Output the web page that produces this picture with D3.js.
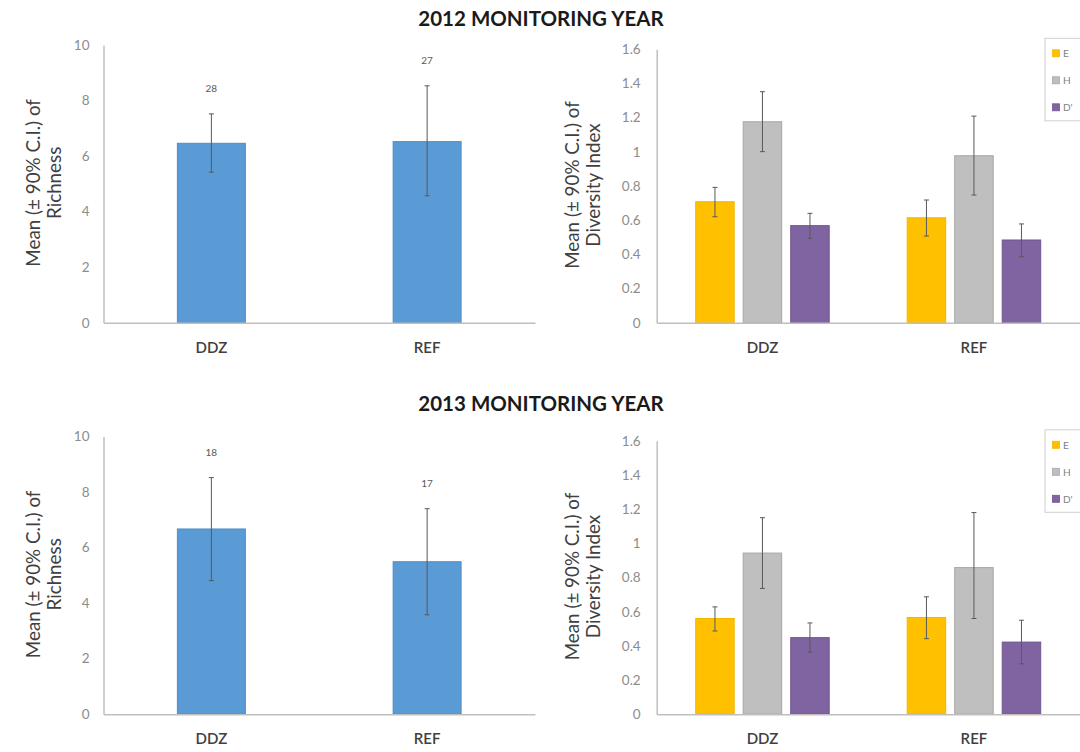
<!DOCTYPE html>
<html>
<head>
<meta charset="utf-8">
<script src="https://cdn.jsdelivr.net/npm/d3@7"></script>
<style>
  html, body { margin: 0; padding: 0; background: #fff; }
  svg { display: block; font-family: Lato, "Open Sans", sans-serif; }
</style>
</head>
<body>
<svg id="chart" width="1080" height="752"></svg>
<script>
// Sites and monitoring years
const categories = ["DDZ", "REF"];
const yearTitles = ["2012 MONITORING YEAR", "2013 MONITORING YEAR"];

// Species richness: mean with 90% confidence limits, and sample size (n)
const richnessMean2012 = [6.46, 6.52];
const richnessLow2012  = [5.42, 4.57];
const richnessHigh2012 = [7.52, 8.53];
const richnessN2012    = [28, 27];

const richnessMean2013 = [6.67, 5.49];
const richnessLow2013  = [4.81, 3.58];
const richnessHigh2013 = [8.52, 7.40];
const richnessN2013    = [18, 17];

// Diversity indices: evenness (E), Shannon (H) and D'
const indexNames = ["E", "H", "D'"];
const diversityMean2012 = { DDZ: [0.708, 1.176, 0.568], REF: [0.614, 0.977, 0.484] };
const diversityLow2012  = { DDZ: [0.620, 1.001, 0.494], REF: [0.507, 0.747, 0.386] };
const diversityHigh2012 = { DDZ: [0.792, 1.352, 0.640], REF: [0.718, 1.209, 0.578] };

const diversityMean2013 = { DDZ: [0.560, 0.943, 0.448], REF: [0.566, 0.858, 0.422] };
const diversityLow2013  = { DDZ: [0.487, 0.736, 0.363], REF: [0.442, 0.560, 0.295] };
const diversityHigh2013 = { DDZ: [0.628, 1.150, 0.534], REF: [0.687, 1.180, 0.550] };

// Axis tick values
const richnessTicks = [0, 2, 4, 6, 8, 10];
const diversityTicks = [0, 0.2, 0.4, 0.6, 0.8, 1, 1.2, 1.4, 1.6];

const richnessColor = { fill: "#5b9bd5", stroke: "#4f8cc4" };
const indexColors = [
  { fill: "#ffc000", stroke: "#f2b600" },
  { fill: "#bfbfbf", stroke: "#a6a6a6" },
  { fill: "#8064a2", stroke: "#6f5592" }
];

const rows = [
  { title: yearTitles[0], titleY: 18, top: 0,
    rich: { mean: richnessMean2012, low: richnessLow2012, high: richnessHigh2012, n: richnessN2012 },
    div: { mean: diversityMean2012, low: diversityLow2012, high: diversityHigh2012 } },
  { title: yearTitles[1], titleY: 403, top: 391.5,
    rich: { mean: richnessMean2013, low: richnessLow2013, high: richnessHigh2013, n: richnessN2013 },
    div: { mean: diversityMean2013, low: diversityLow2013, high: diversityHigh2013 } }
];

const svg = d3.select("#chart");
const axisColor = "#bfbfbf";
const tickColor = "#8c8c8c";
const errColor = "#595959";

function styleAxis(g) {
  g.select(".domain").attr("stroke", axisColor).attr("stroke-width", 1.5);
  g.selectAll(".tick line").remove();
}

function yTitle(g, x, yMid, lines) {
  const t = g.append("text")
    .attr("transform", `translate(${x},${yMid}) rotate(-90)`)
    .attr("text-anchor", "middle")
    .attr("fill", "#404040")
    .style("font-size", "18.8px");
  lines.forEach((s, i) => {
    t.append("tspan").attr("x", 0).attr("dy", i === 0 ? 0 : "1.1em").text(s);
  });
}

function errorBar(g, cx, yTop, yBot, cap) {
  g.append("line").attr("x1", cx).attr("x2", cx).attr("y1", yTop).attr("y2", yBot)
    .attr("stroke", errColor).attr("stroke-width", 1);
  [yTop, yBot].forEach(yy => {
    g.append("line").attr("x1", cx - cap).attr("x2", cx + cap).attr("y1", yy).attr("y2", yy)
      .attr("stroke", errColor).attr("stroke-width", 1);
  });
}

rows.forEach(row => {
  const off = row.top;

  // Panel title
  svg.append("text")
    .attr("x", 541).attr("y", row.titleY)
    .attr("text-anchor", "middle").attr("dominant-baseline", "central")
    .attr("fill", "#1a1a1a").style("font-size", "20.5px").style("font-weight", "bold")
    .text(row.title);

  // ---- Richness panel ----
  const L = { x0: 103.5, x1: 535, y0: 45 + off, y1: 322.7 + off };
  const gL = svg.append("g");
  const xL = d3.scaleBand().domain(categories).range([L.x0, L.x1]).padding(0);
  const yL = d3.scaleLinear().domain([0, 10]).range([L.y1, L.y0]);
  const barW = xL.bandwidth() * 0.315;

  gL.append("g").attr("transform", `translate(${L.x0},0)`)
    .call(d3.axisLeft(yL).tickValues(richnessTicks).tickSize(0).tickPadding(14))
    .call(styleAxis)
    .call(g => g.selectAll(".tick text").attr("fill", tickColor).style("font-size", "13.5px")
      .style("font-family", "Lato, sans-serif"));

  gL.selectAll("rect.bar").data(categories).enter().append("rect")
    .attr("x", d => xL(d) + xL.bandwidth() / 2 - barW / 2)
    .attr("width", barW)
    .attr("y", (d, i) => yL(row.rich.mean[i]))
    .attr("height", (d, i) => yL(0) - yL(row.rich.mean[i]))
    .attr("fill", richnessColor.fill).attr("stroke", richnessColor.stroke).attr("stroke-width", 1);

  gL.append("g").attr("transform", `translate(0,${L.y1})`)
    .call(d3.axisBottom(xL).tickSize(0).tickPadding(0))
    .call(styleAxis)
    .call(g => g.selectAll(".tick text").attr("y", 25).attr("dy", "0.35em")
      .attr("fill", "#404040").style("font-size", "15px").style("font-weight", "600")
      .style("font-family", "Lato, sans-serif"));

  categories.forEach((c, i) => {
    const cx = xL(c) + xL.bandwidth() / 2;
    errorBar(gL, cx, yL(row.rich.high[i]), yL(row.rich.low[i]), 2.5);
    gL.append("text").attr("x", cx).attr("y", yL(row.rich.high[i] + 0.92))
      .attr("text-anchor", "middle").attr("dominant-baseline", "central")
      .attr("fill", "#595959").style("font-size", "10px").text(row.rich.n[i]);
  });

  yTitle(gL, 40, (L.y0 + L.y1) / 2 - 1, ["Mean (\u00B1 90% C.I.) of", "Richness"]);

  // ---- Diversity panel ----
  const R = { x0: 656.7, x1: 1079.7, y0: 49.3 + off, y1: 322.7 + off };
  const gR = svg.append("g");
  const xR = d3.scaleBand().domain(categories).range([R.x0, R.x1]).padding(0);
  const groupW = 133.5;
  const xS = d3.scaleBand().domain(indexNames).range([0, groupW]).paddingInner(0.19).paddingOuter(0);
  const yR = d3.scaleLinear().domain([0, 1.6]).range([R.y1, R.y0]);

  gR.append("g").attr("transform", `translate(${R.x0},0)`)
    .call(d3.axisLeft(yR).tickValues(diversityTicks).tickSize(0).tickPadding(16)
      .tickFormat(d => String(+d.toFixed(1))))
    .call(styleAxis)
    .call(g => g.selectAll(".tick text").attr("fill", tickColor).style("font-size", "13.5px")
      .style("font-family", "Lato, sans-serif"));

  categories.forEach(c => {
    const gx = xR(c) + (xR.bandwidth() - groupW) / 2;
    indexNames.forEach((s, j) => {
      const v = row.div.mean[c][j];
      gR.append("rect")
        .attr("x", gx + xS(s)).attr("width", xS.bandwidth())
        .attr("y", yR(v)).attr("height", yR(0) - yR(v))
        .attr("fill", indexColors[j].fill).attr("stroke", indexColors[j].stroke).attr("stroke-width", 1);
    });
  });

  gR.append("g").attr("transform", `translate(0,${R.y1})`)
    .call(d3.axisBottom(xR).tickSize(0).tickPadding(0))
    .call(styleAxis)
    .call(g => g.selectAll(".tick text").attr("y", 25).attr("dy", "0.35em")
      .attr("fill", "#404040").style("font-size", "15px").style("font-weight", "600")
      .style("font-family", "Lato, sans-serif"));

  categories.forEach(c => {
    const gx = xR(c) + (xR.bandwidth() - groupW) / 2;
    indexNames.forEach((s, j) => {
      const cx = gx + xS(s) + xS.bandwidth() / 2;
      errorBar(gR, cx, yR(row.div.high[c][j]), yR(row.div.low[c][j]), 2.5);
    });
  });

  yTitle(gR, 579, (R.y0 + R.y1) / 2 - 1, ["Mean (\u00B1 90% C.I.) of", "Diversity Index"]);

  // Legend
  const lg = svg.append("g").attr("transform", `translate(1045,${38.3 + off})`);
  lg.append("rect").attr("x", 0).attr("y", 0).attr("width", 60).attr("height", 82.5)
    .attr("fill", "#fff").attr("stroke", "#d0d0d0").attr("stroke-width", 1);
  indexNames.forEach((s, j) => {
    const cy = 15 + j * 27;
    lg.append("rect").attr("x", 7.5).attr("y", cy - 3.5).attr("width", 7).attr("height", 7)
      .attr("fill", indexColors[j].fill).attr("stroke", indexColors[j].stroke).attr("stroke-width", 0.8);
    lg.append("text").attr("x", 18).attr("y", cy).attr("dominant-baseline", "central")
      .attr("fill", "#7f7f7f").style("font-size", "10px").text(s);
  });
});
</script>
</body>
</html>
